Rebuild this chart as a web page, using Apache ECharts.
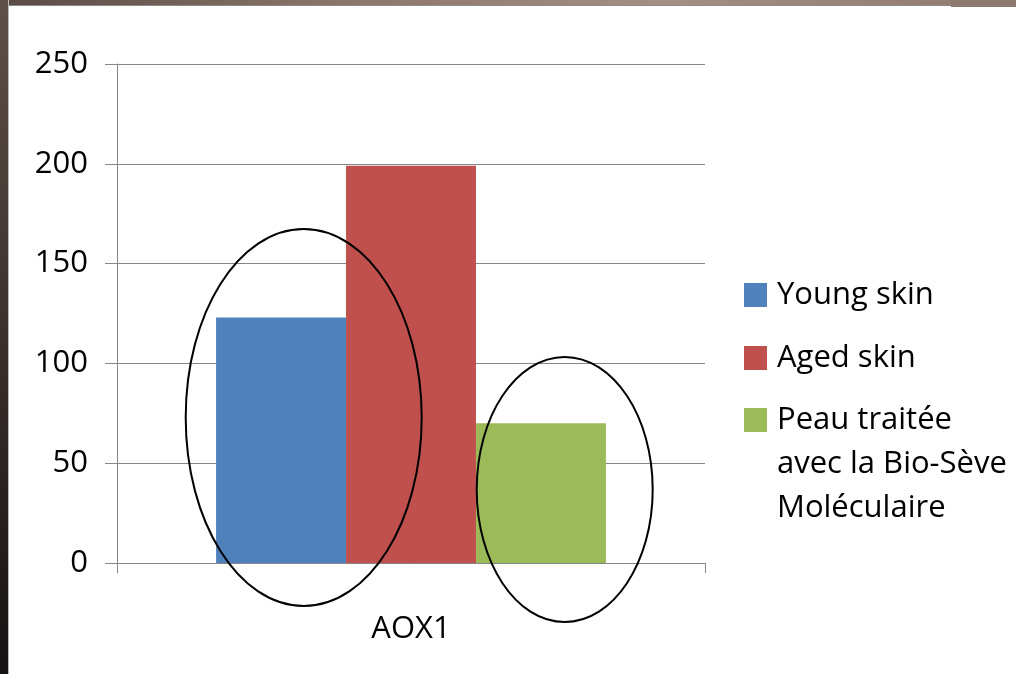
<!DOCTYPE html>
<html>
<head>
<meta charset="utf-8">
<script src="https://cdn.jsdelivr.net/npm/echarts@6/dist/echarts.min.js"></script>
<style>
html,body{margin:0;padding:0;background:#fff;}
#chart{position:absolute;left:0;top:0;width:1016px;height:674px;}
.fr{position:absolute;pointer-events:none;z-index:5;}
</style>
</head>
<body>
<div id="chart"></div>
<div class="fr" style="left:0;top:0;width:1016px;height:5px;background:linear-gradient(90deg,#5a4a44 0%,#8c776c 35%,#a58e83 65%,#8f7a70 100%);border-bottom:1px solid #8a8a8a;"></div>
<div class="fr" style="left:951px;top:0;width:65px;height:7px;background:#8f7a70;"></div>
<div class="fr" style="left:0;top:0;width:8px;height:674px;background:linear-gradient(180deg,#5e5049 0%,#3a302d 50%,#161213 100%);border-right:1px solid #b8b8b8;"></div>
<script>
const categories = ['AOX1'];
const seriesNames = ['Young skin', 'Aged skin', 'Peau traitée avec la Bio-Sève Moléculaire'];
const legendLabels = ['Young skin', 'Aged skin', '\n\nPeau traitée\navec la Bio-Sève\nMoléculaire'];
const youngSkin = [123];
const agedSkin = [199];
const treatedSkin = [70];
const yTicks = [0, 50, 100, 150, 200, 250];

const colors = ['#4f81bd', '#c0504d', '#9bbb59'];
const values = [youngSkin, agedSkin, treatedSkin];
const FONT = '"Open Sans", "Noto Sans", sans-serif';
const axisGrey = '#868686';

const chart = echarts.init(document.getElementById('chart'), null, {renderer: 'canvas'});

function legendFor(i, top) {
  return {
    orient: 'vertical',
    left: 744,
    top: top,
    padding: 0,
    itemWidth: 23,
    itemHeight: 24,
    icon: 'rect',
    selectedMode: false,
    data: [seriesNames[i]],
    formatter: function () { return legendLabels[i]; },
    textStyle: {
      fontFamily: FONT,
      fontSize: 31,
      color: '#000',
      lineHeight: 44,
      padding: [0, 0, 0, 5]
    }
  };
}

const option = {
  backgroundColor: 'transparent',
  animation: false,
  grid: {left: 117, right: 311, top: 64, bottom: 111, containLabel: false},
  legend: [
    legendFor(0, 273),
    legendFor(1, 336),
    legendFor(2, 310)
  ],
  xAxis: {
    type: 'category',
    data: categories,
    axisLine: {show: true, lineStyle: {color: axisGrey, width: 1}},
    axisTick: {show: true, length: 10, lineStyle: {color: axisGrey}},
    axisLabel: {fontFamily: FONT, fontSize: 31, color: '#000', margin: 51},
    splitLine: {show: false}
  },
  yAxis: {
    type: 'value',
    min: yTicks[0],
    max: yTicks[yTicks.length - 1],
    interval: yTicks[1] - yTicks[0],
    axisLine: {show: true, lineStyle: {color: axisGrey, width: 1}},
    axisTick: {show: true, length: 12, lineStyle: {color: axisGrey}},
    axisLabel: {fontFamily: FONT, fontSize: 31, color: '#000', margin: 29},
    splitLine: {show: true, lineStyle: {color: axisGrey, width: 1}}
  },
  series: seriesNames.map(function (name, i) {
    return {
      name: name,
      type: 'bar',
      data: values[i],
      itemStyle: {color: colors[i]},
      barGap: '0%',
      barCategoryGap: '33.7%'
    };
  }),
  graphic: [
    {type: 'ellipse', z: 100, shape: {cx: 303.7, cy: 417.5, rx: 118, ry: 188.5},
     style: {fill: 'none', stroke: '#000', lineWidth: 2}},
    {type: 'ellipse', z: 100, shape: {cx: 564.7, cy: 489.5, rx: 88, ry: 132.5},
     style: {fill: 'none', stroke: '#000', lineWidth: 2}}
  ]
};
chart.setOption(option);
</script>
</body>
</html>
